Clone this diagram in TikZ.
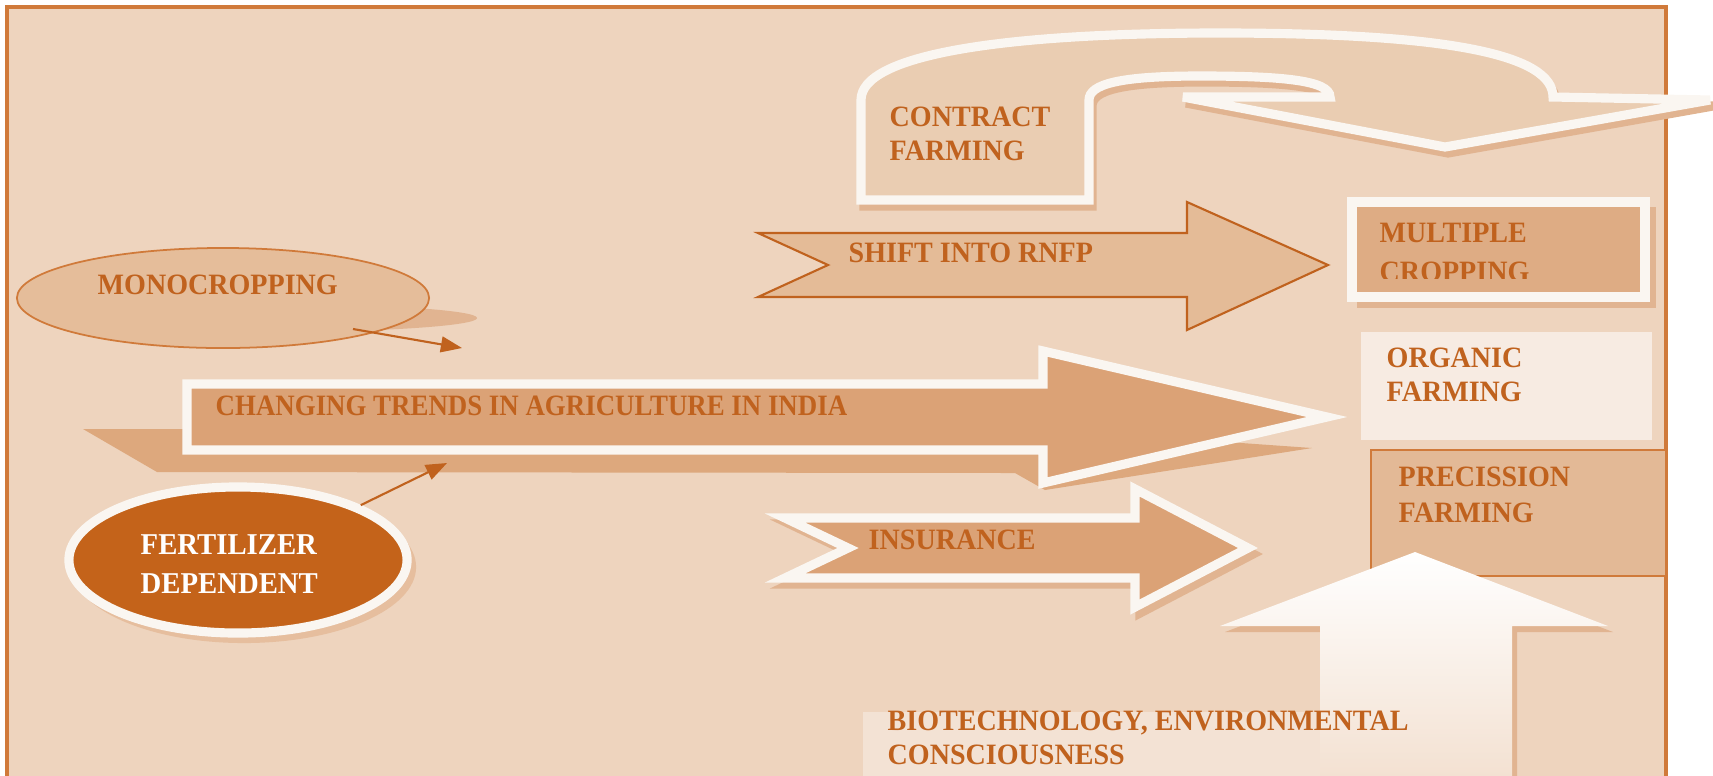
\documentclass[tikz,border=0pt]{standalone}
\usepackage{fontspec}
\setmainfont{Liberation Serif}[FakeStretch=0.95]
\newfontfamily\narrowfont{Liberation Serif}[FakeStretch=0.91]
\usetikzlibrary{shapes.geometric,arrows.meta}
\definecolor{bgcol}{RGB}{238,212,190}
\definecolor{framecol}{RGB}{208,122,58}
\definecolor{txtcol}{RGB}{192,98,30}
\definecolor{linecol}{RGB}{250,246,241}
\definecolor{shadecol}{RGB}{225,180,145}
\definecolor{ufill}{RGB}{234,205,178}
\definecolor{shiftfill}{RGB}{228,187,151}
\definecolor{trendfill}{RGB}{219,162,118}
\definecolor{trendshade}{RGB}{221,168,125}
\definecolor{multfill}{RGB}{222,172,132}
\definecolor{orgfill}{RGB}{247,235,226}
\definecolor{precfill}{RGB}{227,185,150}
\definecolor{monofill}{RGB}{229,189,154}
\definecolor{fertfill}{RGB}{196,99,26}
\definecolor{fertshade}{RGB}{230,190,158}
\definecolor{biofill}{RGB}{243,226,212}
\definecolor{upbottom}{RGB}{242,222,205}
\newcommand{\uturnpath}{(861,200) -- (861,100) .. controls (861,55) and (1000,33) .. (1220,33) .. controls (1450,33) and (1553,55) .. (1553,97) -- (1710,100) -- (1445,147) -- (1183,97) -- (1330,97) .. controls (1330,80) and (1280,76) .. (1200,76) .. controls (1120,76) and (1089,84) .. (1089,100) -- (1089,200) -- cycle}
\newcommand{\trendpath}{(187,384) -- (1043,384) -- (1043,351) -- (1327,417) -- (1043,483) -- (1043,450) -- (187,450) -- cycle}
\newcommand{\insurepath}{(785,518) -- (1135,518) -- (1135,489) -- (1248,548) -- (1135,607) -- (1135,578) -- (785,578) -- (848,548) -- cycle}
\newcommand{\uppath}{(1220,626) -- (1415,552) -- (1608,626) -- (1512,626) -- (1512,800) -- (1320,800) -- (1320,626) -- cycle}

\begin{document}
\begin{tikzpicture}[x=0.01cm,y=-0.01cm]
    \tikzstyle{txt}=[anchor=north west, inner sep=0pt, align=left, text=txtcol, font=\fontsize{8.4}{9.6}\selectfont\bfseries]
    \tikzstyle{whiteline}=[draw=linecol, line width=2.6pt, line join=miter]
    \tikzstyle{shadowfill}=[fill=shadecol, draw=shadecol, line width=2.6pt, line join=miter]
    \tikzstyle{pointer}=[draw=txtcol, line width=0.6pt, -{Triangle[length=6pt,width=4.5pt]}]
    \useasboundingbox (0,0) rectangle (1713,775);
    \draw[framecol, line width=0.9pt, fill=bgcol] (7,7) rectangle (1666,800);

    \begin{scope}[shift={(3,6)}]
        \path[shadowfill] \uturnpath;
    \end{scope}
    \path[whiteline, fill=ufill] \uturnpath;
    \path[draw=txtcol, line width=0.6pt, fill=shiftfill] (758,233) -- (1187,233) -- (1187,202) -- (1328,265) -- (1187,330) -- (1187,297) -- (758,297) -- (828,265) -- cycle;

    \fill[shadecol] (1357,207) rectangle (1656,308);
    \draw[whiteline, fill=multfill] (1352,202) rectangle (1645,297);
    \fill[orgfill] (1361,332) rectangle (1652,440);
    \draw[framecol, line width=0.6pt, fill=precfill] (1371,450) rectangle (1666,576);

    \fill[trendshade] (83,429) -- (1043,429) -- (1312,448) -- (1045,490) -- (1015,473) -- (157,472) -- cycle;
    \path[whiteline, fill=trendfill] \trendpath;

    \fill[shadecol] (270,318) ellipse [x radius=2.07cm, y radius=0.14cm];
    \node[ellipse, draw=framecol, line width=0.5pt, fill=monofill, minimum width=4.12cm, minimum height=1.0cm, inner sep=0pt] (monoell) at (223,298) {};
    \fill[fertshade] (244,567) ellipse [x radius=1.72cm, y radius=0.76cm];
    \node[ellipse, whiteline, fill=fertfill, minimum width=3.38cm, minimum height=1.46cm, inner sep=0pt] (fertell) at (238,560) {};

    \begin{scope}[shift={(5,6)}]
        \path[shadowfill] \insurepath;
    \end{scope}
    \path[whiteline, fill=trendfill] \insurepath;

    \fill[biofill] (863,712) rectangle (1320,800);
    \begin{scope}[shift={(5,6)}]
        \fill[shadecol] \uppath;
    \end{scope}
    \shade[top color=white, bottom color=upbottom] \uppath;

    \node[txt] (contract) at (889,106) {CONTRACT\\FARMING};
    \node[txt] (shift) at (848,242) {SHIFT INTO RNFP};
    \node[txt] (multiple) at (1379,222) {MULTIPLE};
    \begin{scope}
        \clip (1352,200) rectangle (1645,278);
        \node[txt] (cropping) at (1379,261) {CROPPING};
    \end{scope}
    \node[txt] (organic) at (1386,347) {ORGANIC\\FARMING};
    \node[txt, font=\fontsize{8.4}{10.2}\selectfont\bfseries] (precision) at (1398,466) {PRECISSION\\FARMING};
    \node[txt, font=\fontsize{8.4}{9.6}\narrowfont\bfseries] (trends) at (215,395) {CHANGING TRENDS IN AGRICULTURE IN INDIA};
    \node[txt] (mono) at (97,274) {MONOCROPPING};
    \node[txt, text=white, font=\fontsize{8.6}{11}\selectfont\bfseries] (fert) at (140,534) {FERTILIZER\\DEPENDENT};
    \node[txt] (insurance) at (868,529) {INSURANCE};
    \node[txt] (biotech) at (887,710) {BIOTECHNOLOGY, ENVIRONMENTAL\\CONSCIOUSNESS};

    \coordinate (monotail) at (353,329);
    \coordinate (monohead) at (462,348);
    \coordinate (ferthead) at (447,463);
    \draw[pointer] (monotail) -- (monohead);
    \draw[pointer] (fertell.north east) -- (ferthead);
\end{tikzpicture}
\end{document}
